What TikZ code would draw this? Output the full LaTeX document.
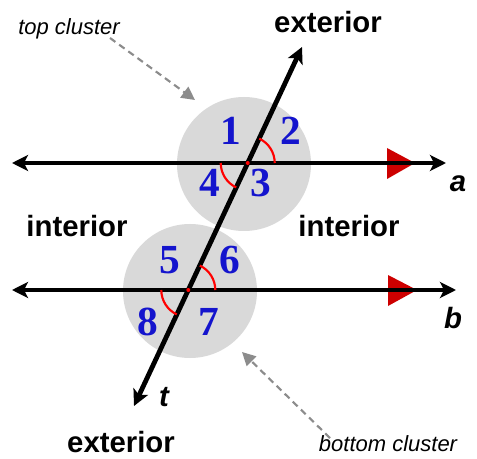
\documentclass[tikz,border=0pt]{standalone}
\usepackage{xcolor}
\usepackage{fontspec}
\setmainfont{Liberation Serif}
\newfontfamily\arialfont{Liberation Sans}
\usetikzlibrary{arrows.meta, positioning}

\definecolor{clustergray}{RGB}{217,217,217}
\definecolor{anglenum}{RGB}{20,20,205}
\definecolor{pointergray}{RGB}{140,140,140}
\definecolor{markred}{RGB}{205,0,0}

\begin{document}
\begin{tikzpicture}[x=0.75pt, y=-0.75pt,
  cluster/.style={circle, fill=clustergray, minimum size=100.5pt, inner sep=0pt},
  parline/.style={line width=3.6pt, {Stealth[length=12pt,width=12pt,inset=3pt]}-{Stealth[length=12pt,width=12pt,inset=3pt]}},
  anglearc/.style={red, line width=1.6pt},
  anglenr/.style={anchor=base, inner sep=0pt, text=anglenum, font=\fontsize{31}{31}\selectfont\bfseries},
  region/.style={anchor=base, inner sep=0pt, font=\fontsize{22}{22}\selectfont\arialfont\bfseries},
  linelabel/.style={inner sep=0pt, font=\fontsize{22}{22}\selectfont\arialfont\bfseries\itshape},
  clusterlabel/.style={anchor=base, inner sep=0pt, font=\fontsize{16.5}{17}\selectfont\arialfont\itshape},
  pointer/.style={pointergray, line width=1.6pt, dash pattern=on 5pt off 3.5pt, -{Triangle[length=10pt,width=10pt]}}]
  \useasboundingbox (0,0) rectangle (477,459);

  % gray clusters
  \node[cluster] (topclu) at (244,164) {};
  \node[cluster] (botclu) at (190,291) {};

  % red marks for parallel lines
  \fill[markred] (387,148) -- (415,163) -- (387,179) -- cycle;
  \fill[markred] (388,275) -- (417,290) -- (388,306) -- cycle;

  % lines a, b and transversal t
  \coordinate (aL) at (12,163);
  \coordinate (aR) at (446,163);
  \coordinate (bL) at (12,290);
  \coordinate (bR) at (456,290);
  \coordinate (tT) at (302,47);
  \coordinate (tB) at (134,406);
  \draw[parline] (aL) -- (aR);
  \draw[parline] (bL) -- (bR);
  \draw[parline] (tT) -- (tB);

  % crossing points
  \coordinate (pa) at (intersection of aL--aR and tT--tB);
  \coordinate (pb) at (intersection of bL--bR and tT--tB);

  % angle arcs
  \draw[anglearc] (pa) ++(0:27) arc[start angle=0, end angle=-64.7, radius=27];
  \draw[anglearc] (pa) ++(180:27) arc[start angle=180, end angle=115.3, radius=27];
  \draw[anglearc] (pb) ++(0:27) arc[start angle=0, end angle=-64.7, radius=27];
  \draw[anglearc] (pb) ++(180:27) arc[start angle=180, end angle=115.3, radius=27];
  \fill[red] (pa) circle[radius=2];
  \fill[red] (pb) circle[radius=2];

  % angle numbers
  \node[anglenr] (n1) at (231,145) {1};
  \node[anglenr] (n2) at (291,145) {2};
  \node[anglenr] (n3) at (261,197) {3};
  \node[anglenr] (n4) at (210,197) {4};
  \node[anglenr] (n5) at (170,273) {5};
  \node[anglenr] (n6) at (230,273) {6};
  \node[anglenr] (n7) at (209,335) {7};
  \node[anglenr] (n8) at (148,335) {8};

  % regions
  \node[region] (exttop) at (328,33) {exterior};
  \node[region] (extbot) at (121,452) {exterior};
  \node[region] (intleft) at (77,237) {interior};
  \node[region] (intright) at (349,237) {interior};

  % line names
  \node[linelabel] (la) at (458,184) {a};
  \node[linelabel] (lb) at (453,318) {b};
  \node[linelabel] (lt) at (164,397) {t};

  % cluster labels
  \node[clusterlabel] (toplabel) at (69,35) {top cluster};
  \node[clusterlabel] (botlabel) at (388,451) {bottom cluster};
  \coordinate (topstart) at (110,38);
  \coordinate (toptip) at (195,100);
  \coordinate (botstart) at (330,438);
  \coordinate (bottip) at (242,352);
  \draw[pointer] (topstart) -- (toptip);
  \draw[pointer] (botstart) -- (bottip);
\end{tikzpicture}
\end{document}
